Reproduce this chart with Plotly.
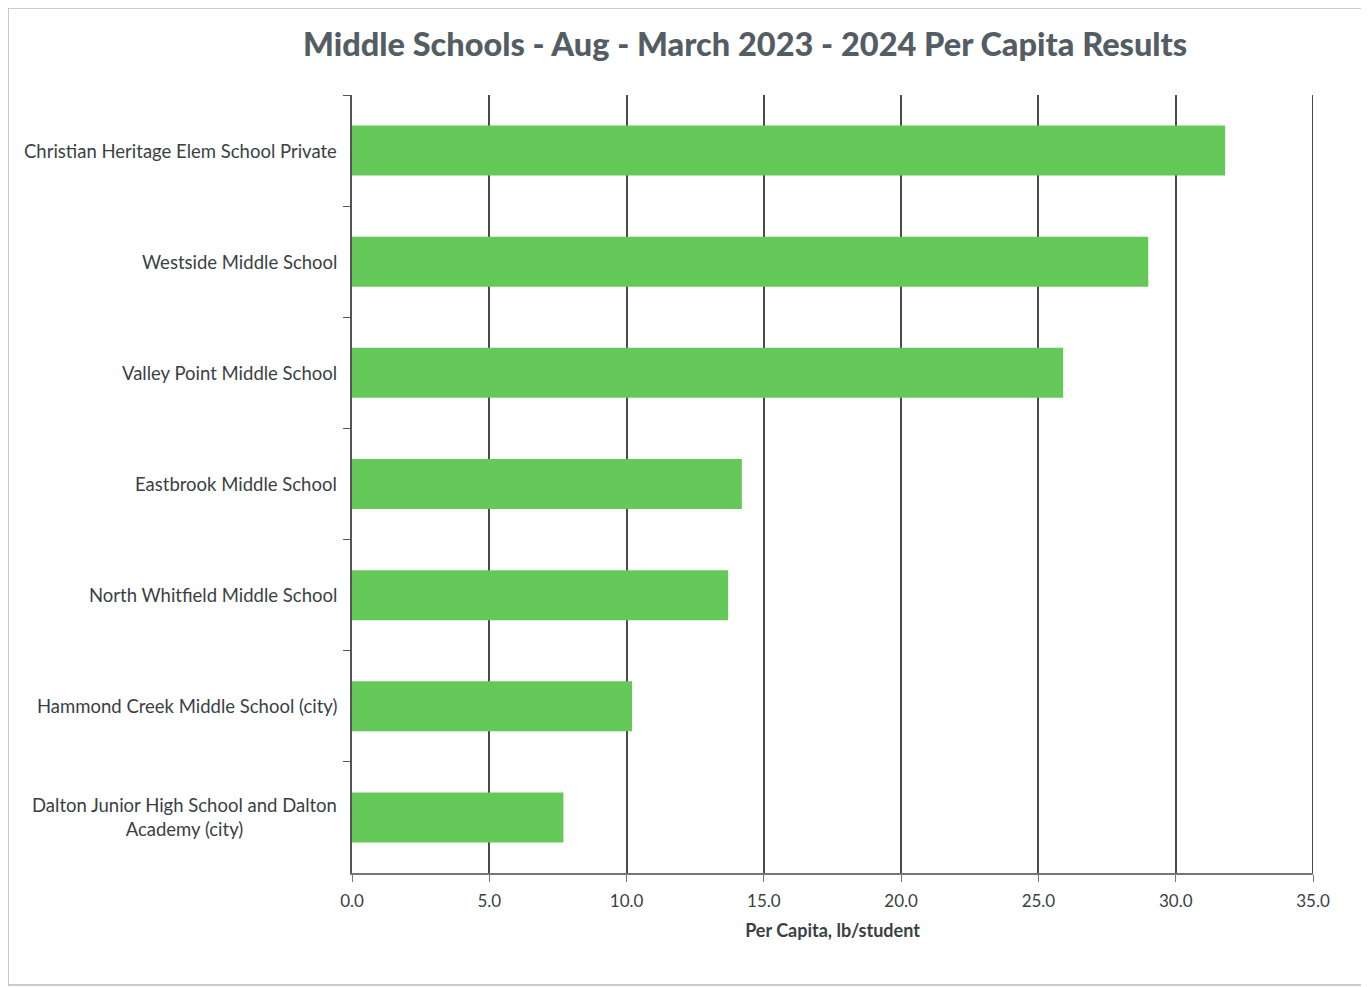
import plotly.graph_objects as go

schools = [
    "Christian Heritage Elem School Private",
    "Westside Middle School",
    "Valley Point Middle School",
    "Eastbrook Middle School",
    "North Whitfield Middle School",
    "Hammond Creek Middle School (city)",
    "Dalton Junior High School and Dalton<br>Academy (city)",
]
per_capita = [31.8, 29.0, 25.9, 14.2, 13.7, 10.2, 7.7]
x_ticks = [0, 5, 10, 15, 20, 25, 30, 35]
x_tick_labels = ["0.0", "5.0", "10.0", "15.0", "20.0", "25.0", "30.0", "35.0"]

W, H = 1361, 979
ml, mr, mt, mb = 344, 56, 87, 114
pw = W - ml - mr
ph = H - mt - mb
FONT = "Lato, Open Sans, sans-serif"

fig = go.Figure()
fig.add_trace(go.Bar(
    y=schools, x=per_capita, orientation="h",
    marker=dict(color="#64c958", line=dict(width=0)),
    width=0.45,
))

annotations = [
    dict(text=s, xref="paper", x=0, xanchor="right", xshift=-13,
         yref="y", y=s, yanchor="middle", showarrow=False, align="center",
         font=dict(family=FONT, size=18.5, color="#3a3f44"))
    for s in schools
]
annotations.append(dict(
    text="<b>Middle Schools - Aug - March 2023 - 2024 Per Capita Results</b>",
    xref="paper", yref="paper", x=(737 - ml) / pw, y=1 + (mt - 36) / ph,
    xanchor="center", yanchor="middle", showarrow=False,
    font=dict(family="Lato Black, Lato, Open Sans, sans-serif", size=32.5, color="#545d63"),
))

fig.update_layout(
    width=W, height=H,
    margin=dict(l=ml, r=mr, t=mt, b=mb),
    paper_bgcolor="white", plot_bgcolor="white",
    showlegend=False,
    annotations=annotations,
    shapes=[
        dict(type="rect", xref="paper", yref="paper",
             x0=(0 - ml) / pw, x1=(1358 - ml) / pw,
             y0=-(977 - mt - ph) / ph, y1=1 + mt / ph,
             line=dict(color="#bbbbbb", width=1.5), layer="below"),
        dict(type="line", xref="x", yref="paper",
             x0=x_ticks[-1], x1=x_ticks[-1], y0=0, y1=1,
             line=dict(color="#4a4a4a", width=2), layer="below"),
    ],
    xaxis=dict(
        range=[0, 35], tickvals=x_ticks, ticktext=x_tick_labels,
        showgrid=True, gridcolor="#4a4a4a", gridwidth=2,
        showline=True, linecolor="#777777", linewidth=2,
        ticks="outside", ticklen=7, tickcolor="#777777",
        ticklabelstandoff=5,
        zeroline=False,
        tickfont=dict(family=FONT, size=17, color="#3a3f44"),
        title=dict(text="<b>Per Capita, lb/student</b>", standoff=14,
                   font=dict(family=FONT, size=18, color="#3a3f44")),
    ),
    yaxis=dict(
        categoryorder="array", categoryarray=schools, autorange="reversed",
        showticklabels=False,
        showline=True, linecolor="#555555", linewidth=2,
        ticks="outside", ticklen=7, tickcolor="#555555", tickson="boundaries",
        showgrid=False,
    ),
)

fig.write_html("out.html")
